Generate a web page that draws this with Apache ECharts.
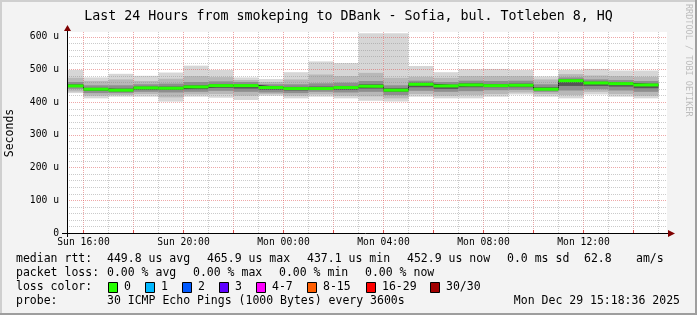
<!DOCTYPE html>
<html><head><meta charset="utf-8">
<script src="https://cdn.jsdelivr.net/npm/echarts@6/dist/echarts.min.js"></script>
<style>html,body{margin:0;padding:0;background:#f3f3f3}#c{width:697px;height:315px}</style>
</head><body><div id="c"></div>
<script>
// ---- data (hours since Sun 00:00) ----
const X_MIN = 15.34, X_MAX = 39.34;
const hourEnds = [16,17,18,19,20,21,22,23,24,25,26,27,28,29,30,31,32,33,34,35,36,37,38,39];
const medians  = [450,440,437,444,443,447,451,451,445,442,442,445,449,437,455,450,453,451,452,440,466,459,457,453];
const pMin = [428,412,417,417,402,417,414,407,420,412,417,412,405,402,417,412,412,417,424,417,412,424,417,412];
const p10  = [433,420,422,425,415,424,425,420,425,420,424,420,418,412,425,420,422,425,430,425,422,432,425,420];
const p25  = [441,428,428,432,430,432,435,432,430,428,432,430,432,422,435,432,434,437,438,432,436,440,436,432];
const p40  = [447,435,433,438,438,440,444,442,438,436,438,438,442,432,446,441,446,446,446,437,450,450,448,443];
const p60  = [455,444,442,448,448,452,456,455,448,447,448,450,455,443,460,454,458,456,457,446,470,463,461,457];
const p75  = [462,452,452,455,457,462,464,462,455,455,458,460,465,452,466,462,466,465,466,455,476,470,468,465];
const p90  = [475,465,470,465,472,480,477,468,462,470,485,480,490,475,478,475,480,480,480,470,486,482,480,478];
const pMax = [499,476,487,481,491,512,499,476,471,492,525,520,611,611,511,492,501,502,499,479,499,502,497,497];
const labelHours = [16,20,24,28,32,36];
const tickHours = [16,18,20,22,24,26,28,30,32,34,36,38];
const gridHours = [16,17,18,19,20,21,22,23,24,25,26,27,28,29,30,31,32,33,34,35,36,37,38,39];
const lossLabels = ['0','1','2','3','4-7','8-15','16-29','30/30'];
const lossColors = ['#26ff00','#00b8ff','#0059ff','#5e00ff','#ff00ff','#ff5e00','#ff0000','#a10000'];

const FONT = '"DejaVu Sans Mono", monospace';
const BAND_COLORS = ['#d6d6d6','#b8b8b8','#8e8e8e','#555555'];
const segStart = i => Math.max(hourEnds[i] - 1, X_MIN);

const bands = [[pMin,pMax],[p10,p90],[p25,p75],[p40,p60]];
const smokeData = [];
bands.forEach((b, bi) => hourEnds.forEach((e, i) => smokeData.push([segStart(i), e, b[0][i], b[1][i], bi])));
const medLine = [];
hourEnds.forEach((e, i) => { medLine.push([segStart(i), medians[i]]); medLine.push([e, medians[i]]); });
const medBars = hourEnds.map((e, i) => [segStart(i), e, medians[i]]);

const MAJ = {color:'rgba(222,80,80,0.5)', type:[1,1], width:1};
const MIN = {color:'rgba(140,140,140,0.45)', type:[1,1], width:1};
const gridLines = [];
gridHours.forEach(h => gridLines.push({xAxis:h, lineStyle: h % 2 === 0 ? MAJ : MIN}));
for (let v = 20; v <= 600; v += 20) gridLines.push({yAxis:v, lineStyle: v % 100 === 0 ? MAJ : MIN});

const pad = n => (n < 10 ? '0' : '') + n;
const fmtHour = h => (h < 24 ? 'Sun ' : 'Mon ') + pad(h % 24) + ':00';

const chart = echarts.init(document.getElementById('c'));
const txt = (x, y, text, extra, el) => Object.assign({type:'text', x, y, silent:true,
  style:Object.assign({text, font:'11.5px ' + FONT, fill:'#000', verticalAlign:'middle'}, extra||{})}, el||{});
const graphics = [
  {type:'rect', shape:{x:0,y:0,width:697,height:2}, style:{fill:'#cfcfcf'}},
  {type:'rect', shape:{x:0,y:0,width:2,height:315}, style:{fill:'#cfcfcf'}},
  {type:'rect', shape:{x:695,y:0,width:2,height:315}, style:{fill:'#9e9e9e'}},
  {type:'rect', shape:{x:0,y:313,width:697,height:2}, style:{fill:'#9e9e9e'}},
  {type:'line', shape:{x1:62,y1:233.5,x2:669,y2:233.5}, style:{stroke:'#000',lineWidth:1}, z:50},
  {type:'line', shape:{x1:67.5,y1:237,x2:67.5,y2:30}, style:{stroke:'#000',lineWidth:1}, z:50},
  {type:'polygon', shape:{points:[[668,230],[675,233.5],[668,237]]}, style:{fill:'#7f0000'}, z:50},
  {type:'polygon', shape:{points:[[64,31],[67.5,25],[71,31]]}, style:{fill:'#7f0000'}, z:50},
  txt(10, 133, 'Seconds', {align:'center'}, {rotation:Math.PI/2}),
  txt(688, 4, 'RRDTOOL / TOBI OETIKER', {align:'left', font:'8.5px ' + FONT, fill:'#bdbdbd'}, {rotation:-Math.PI/2}),
  txt(16, 259, 'median rtt:'), txt(107, 259, '449.8 us avg'), txt(207, 259, '465.9 us max'),
  txt(307, 259, '437.1 us min'), txt(407, 259, '452.9 us now'), txt(507, 259, '0.0 ms sd'),
  txt(584, 259, '62.8'), txt(636, 259, 'am/s'),
  txt(16, 273, 'packet loss:'), txt(107, 273, '0.00 % avg'), txt(193, 273, '0.00 % max'),
  txt(279, 273, '0.00 % min'), txt(365, 273, '0.00 % now'),
  txt(16, 287, 'loss color:'),
  txt(16, 301, 'probe:'), txt(107, 301, '30 ICMP Echo Pings (1000 Bytes) every 3600s'),
  txt(680, 301, 'Mon Dec 29 15:18:36 2025', {align:'right'})
];
const boxX = [108,145,182,219,256,307,366,430];
lossLabels.forEach((l, i) => {
  graphics.push({type:'rect', shape:{x:boxX[i]+0.5, y:282.5, width:9, height:10}, style:{fill:lossColors[i], stroke:'#000', lineWidth:1}});
  graphics.push(txt(boxX[i] + 16, 287, l));
});

chart.setOption({
  backgroundColor:'#f3f3f3',
  animation:false,
  title:{text:'Last 24 Hours from smokeping to DBank - Sofia, bul. Totleben 8, HQ', left:'center', top:5,
    textStyle:{fontFamily:FONT, fontSize:13.3, fontWeight:'normal', color:'#000'}},
  grid:{left:67, top:32, width:600, height:201, show:true, backgroundColor:'#fff', borderWidth:0},
  xAxis:{type:'value', min:X_MIN, max:X_MAX,
    axisLine:{show:false}, splitLine:{show:false},
    axisTick:{show:true, customValues:tickHours, length:3, inside:true, lineStyle:{color:'#e05050'}},
    axisLabel:{customValues:labelHours, formatter:v => fmtHour(v), fontFamily:FONT, fontSize:9.7, color:'#000', margin:4}},
  yAxis:{type:'value', min:0, max:615, interval:100,
    axisLine:{show:false}, splitLine:{show:false}, axisTick:{show:false},
    axisLabel:{formatter:v => (v % 100 !== 0 ? '' : (v === 0 ? '0' : v + ' u')), showMaxLabel:false,
      fontFamily:FONT, fontSize:9.7, color:'#000', margin:8}},
  series:[
    {type:'custom', z:2, clip:true, data:smokeData, encode:{x:[0,1], y:[2,3]},
      renderItem:(params, api) => {
        const a = api.coord([api.value(0), api.value(3)]);
        const b = api.coord([api.value(1), api.value(2)]);
        return {type:'rect', shape:{x:a[0], y:a[1], width:b[0]-a[0], height:b[1]-a[1]},
          style:{fill:BAND_COLORS[api.value(4)]}};
      }},
    {type:'line', z:3, data:[], silent:true,
      markLine:{silent:true, symbol:['none','none'], label:{show:false}, animation:false, data:gridLines}},
    {type:'line', z:4, data:medLine, showSymbol:false, symbol:'none', silent:true,
      lineStyle:{color:'#202020', width:1}},
    {type:'custom', z:5, data:medBars, encode:{x:[0,1], y:2},
      renderItem:(params, api) => {
        const a = api.coord([api.value(0), api.value(2)]);
        const b = api.coord([api.value(1), api.value(2)]);
        return {type:'rect', shape:{x:a[0], y:a[1]-1.5, width:b[0]-a[0], height:3},
          style:{fill:lossColors[0]}};
      }}
  ],
  graphic:graphics
});
</script></body></html>
